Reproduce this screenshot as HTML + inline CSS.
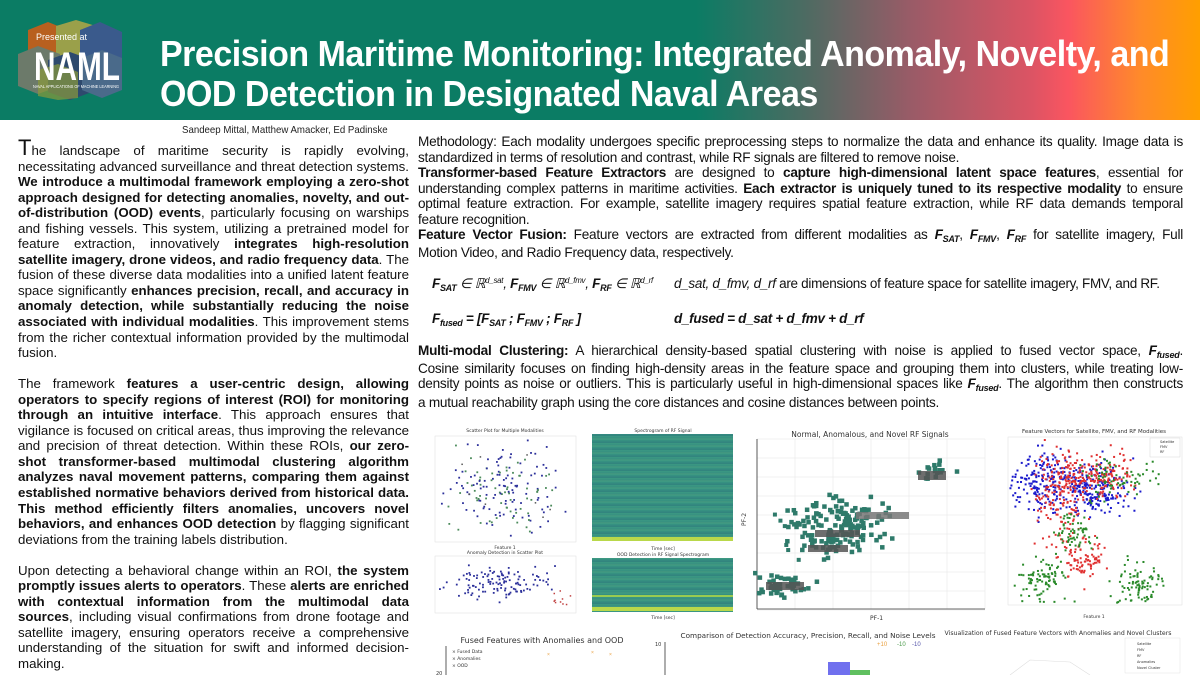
<!DOCTYPE html>
<html><head><meta charset="utf-8">
<style>
*{margin:0;padding:0;box-sizing:border-box}
body{width:1200px;height:675px;overflow:hidden;background:#fff;font-family:"Liberation Sans",Arial,sans-serif;position:relative}
#hdr{position:absolute;left:0;top:0;width:1200px;height:120px;background:linear-gradient(90deg,#0b7c64 0%,#0b7c64 58%,#4c6b62 67%,#9a5b67 76%,#dc5464 86%,#fa5560 89%,#ff8a2a 95%,#ff9f00 100%)}
#title{position:absolute;left:160px;top:34px;color:#fff;font-weight:bold;font-size:36.5px;line-height:40px;letter-spacing:-0.5px;transform:scaleX(0.93);transform-origin:left top;white-space:nowrap}
#logo{position:absolute;left:18px;top:20px;width:106px;height:80px}
#auth{position:absolute;left:182px;top:124px;font-size:10.5px;color:#222;transform:scaleX(0.92);transform-origin:left top}
#left{position:absolute;left:18px;top:143px;width:391px;font-size:13.3px;line-height:15.55px;text-align:justify;color:#111}
#left p{margin-bottom:15.5px}
#left .cap{font-size:22px;line-height:10px}
#right{position:absolute;left:418px;top:134px;width:765px;font-size:13.6px;line-height:15.6px;text-align:justify;color:#111;letter-spacing:-0.25px}
.ln{position:absolute;left:418px;width:765px;font-size:13.6px;line-height:16px;color:#111;letter-spacing:-0.25px;white-space:nowrap;text-align:justify;text-align-last:justify}
.ln.l{text-align-last:left}
sub{font-size:9px;vertical-align:-3px;line-height:0}
sup{font-size:8px;vertical-align:5px;line-height:0}
.eq{position:absolute;font-size:13.5px;font-style:italic;color:#111;white-space:nowrap;letter-spacing:-0.3px}
.t{font-family:"DejaVu Sans",sans-serif;fill:#333}
</style></head><body>
<div id="hdr"></div>
<svg id="logo" viewBox="0 0 106 80">
<polygon points="10,10 30,2 50,10 50,40 30,48 10,40" fill="#b8601f"/>
<polygon points="38,6 58,0 78,6 78,34 58,42 38,34" fill="#9aa04a"/>
<polygon points="62,10 82,2 104,12 104,42 84,50 62,42" fill="#3a5a8c"/>
<polygon points="0,34 20,26 42,34 42,66 20,74 0,66" fill="#6c7a6a"/>
<polygon points="30,40 52,32 74,40 74,72 52,80 30,72" fill="#2e4a6e"/>
<polygon points="64,38 84,30 104,38 104,70 84,78 64,70" fill="#4a6a8a"/>
<polygon points="20,50 40,44 60,52 60,78 40,80 20,76" fill="#8a9a3a" opacity=".7"/>
<text x="18" y="20" fill="#fff" font-size="9" font-family="Liberation Sans">Presented at</text>
<text x="16" y="60" fill="#fff" font-size="40" font-weight="bold" font-family="Liberation Sans" textLength="86" lengthAdjust="spacingAndGlyphs">NAML</text>
<text x="15" y="68" fill="#fff" font-size="4.5" font-family="Liberation Sans" textLength="86" lengthAdjust="spacingAndGlyphs">NAVAL APPLICATIONS OF MACHINE LEARNING</text>
</svg>
<div id="title">Precision Maritime Monitoring: Integrated Anomaly, Novelty, and<br>OOD Detection in Designated Naval Areas</div>
<div id="auth">Sandeep Mittal, Matthew Amacker, Ed Padinske</div>

<div id="left">
<p><span class="cap">T</span>he landscape of maritime security is rapidly evolving, necessitating advanced surveillance and threat detection systems. <b>We introduce a multimodal framework employing a zero-shot approach designed for detecting anomalies, novelty, and out-of-distribution (OOD) events</b>, particularly focusing on warships and fishing vessels. This system, utilizing a pretrained model for feature extraction, innovatively <b>integrates high-resolution satellite imagery, drone videos, and radio frequency data</b>. The fusion of these diverse data modalities into a unified latent feature space significantly <b>enhances precision, recall, and accuracy in anomaly detection, while substantially reducing the noise associated with individual modalities</b>. This improvement stems from the richer contextual information provided by the multimodal fusion.</p>
<p>The framework <b>features a user-centric design, allowing operators to specify regions of interest (ROI) for monitoring through an intuitive interface</b>. This approach ensures that vigilance is focused on critical areas, thus improving the relevance and precision of threat detection. Within these ROIs, <b>our zero-shot transformer-based multimodal clustering algorithm analyzes naval movement patterns, comparing them against established normative behaviors derived from historical data. This method efficiently filters anomalies, uncovers novel behaviors, and enhances OOD detection</b> by flagging significant deviations from the training labels distribution.</p>
<p>Upon detecting a behavioral change within an ROI, <b>the system promptly issues alerts to operators</b>. These <b>alerts are enriched with contextual information from the multimodal data sources</b>, including visual confirmations from drone footage and satellite imagery, ensuring operators receive a comprehensive understanding of the situation for swift and informed decision-making.</p>
</div>

<div id="right">
Methodology: Each modality undergoes specific preprocessing steps to normalize the data and enhance its quality. Image data is standardized in terms of resolution and contrast, while RF signals are filtered to remove noise.<br>
<b>Transformer-based Feature Extractors</b> are designed to <b>capture high-dimensional latent space features</b>, essential for understanding complex patterns in maritime activities. <b>Each extractor is uniquely tuned to its respective modality</b> to ensure optimal feature extraction. For example, satellite imagery requires spatial feature extraction, while RF data demands temporal feature recognition.
</div>
<div class="ln" style="top:227px"><b>Feature Vector Fusion:</b> Feature vectors are extracted from different modalities as <b><i>F<sub>SAT</sub></i></b>, <b><i>F<sub>FMV</sub></i></b>, <b><i>F<sub>RF</sub></i></b> for satellite imagery, Full</div>
<div class="ln l" style="top:245px">Motion Video, and Radio Frequency data, respectively.</div>
<div class="ln" style="top:343px"><b>Multi-modal Clustering:</b> A hierarchical density-based spatial clustering with noise is applied to fused vector space, <b><i>F<sub>fused</sub></i></b>.</div>
<div class="ln" style="top:361px">Cosine similarity focuses on finding high-density areas in the feature space and grouping them into clusters, while treating low-</div>
<div class="ln" style="top:376px">density points as noise or outliers. This is particularly useful in high-dimensional spaces like <b><i>F<sub>fused</sub></i></b>. The algorithm then constructs</div>
<div class="ln l" style="top:395px">a mutual reachability graph using the core distances and cosine distances between points.</div>
<div class="eq" style="left:432px;top:276px"><b>F<sub>SAT</sub></b> ∈ ℝ<sup>d_sat</sup>, <b>F<sub>FMV</sub></b> ∈ ℝ<sup>d_fmv</sup>, <b>F<sub>RF</sub></b> ∈ ℝ<sup>d_rf</sup></div>
<div class="eq" style="left:674px;top:276px">d_sat, d_fmv, d_rf <span style="font-style:normal">are dimensions of feature space for satellite imagery, FMV, and RF.</span></div>
<div class="eq" style="left:432px;top:311px"><b>F<sub>fused</sub> = [F<sub>SAT</sub> ; F<sub>FMV</sub> ; F<sub>RF</sub> ]</b></div>
<div class="eq" style="left:674px;top:311px"><b>d_fused = d_sat + d_fmv + d_rf</b></div>

<svg style="position:absolute;left:0;top:0" width="1200" height="675" id="ch">
<defs>
<linearGradient id="sp" x1="0" y1="0" x2="0" y2="1">
<stop offset="0" stop-color="#3a9585"/><stop offset=".2" stop-color="#32887f"/><stop offset=".4" stop-color="#3c9a83"/><stop offset=".6" stop-color="#34897f"/><stop offset=".8" stop-color="#3b9883"/><stop offset="1" stop-color="#348c80"/>
</linearGradient>
<pattern id="st" width="141" height="7" patternUnits="userSpaceOnUse"><rect width="141" height="7" fill="url(#sp)"/><rect y="0" width="141" height="2" fill="#2a7478" opacity=".25"/><rect y="4" width="141" height="1.5" fill="#5aae80" opacity=".3"/></pattern>
</defs>
<text x="505" y="432" font-size="4.5" class="t" text-anchor="middle">Scatter Plot for Multiple Modalities</text>
<rect x="435" y="436" width="141" height="106" fill="none" stroke="#ddd" stroke-width=".5"/>
<g id="s1"></g>
<text x="505" y="549" font-size="4.5" class="t" text-anchor="middle">Feature 1</text>
<text x="505" y="554" font-size="4.5" class="t" text-anchor="middle">Anomaly Detection in Scatter Plot</text>
<rect x="435" y="556" width="141" height="57" fill="none" stroke="#ddd" stroke-width=".5"/>
<g id="s2"></g>
<text x="663" y="432" font-size="4.5" class="t" text-anchor="middle">Spectrogram of RF Signal</text>
<rect x="592" y="434" width="141" height="107" fill="url(#st)"/>
<rect x="592" y="537" width="141" height="4" fill="#b9d84a"/>
<text x="663" y="550" font-size="4.5" class="t" text-anchor="middle">Time [sec]</text>
<text x="663" y="556" font-size="4.5" class="t" text-anchor="middle">OOD Detection in RF Signal Spectrogram</text>
<rect x="592" y="558" width="141" height="54" fill="url(#st)"/>
<rect x="592" y="595" width="141" height="2" fill="#9acb50"/>
<rect x="592" y="607" width="141" height="4" fill="#b9d84a"/>
<text x="663" y="619" font-size="4.5" class="t" text-anchor="middle">Time [sec]</text>
<text x="870" y="437" font-size="7.5" class="t" text-anchor="middle">Normal, Anomalous, and Novel RF Signals</text>
<g stroke="#e6e6e6" stroke-width=".6" id="g3"></g>
<line x1="757" y1="439" x2="757" y2="609" stroke="#333" stroke-width=".8"/>
<line x1="757" y1="609" x2="985" y2="609" stroke="#333" stroke-width=".8"/>
<g id="s3"></g>
<rect x="918" y="471" width="28" height="9" fill="#555" opacity=".85"/>
<rect x="856" y="512" width="53" height="7" fill="#777" opacity=".85"/>
<rect x="815" y="530" width="45" height="7" fill="#555" opacity=".85"/>
<rect x="808" y="545" width="40" height="7" fill="#555" opacity=".85"/>
<rect x="766" y="582" width="38" height="8" fill="#555" opacity=".85"/>
<text x="870" y="620" font-size="6" class="t">PF-1</text>
<text x="746" y="526" font-size="6" class="t" transform="rotate(-90 746 526)">PF-2</text>
<text x="1094" y="433" font-size="5.5" class="t" text-anchor="middle">Feature Vectors for Satellite, FMV, and RF Modalities</text>
<rect x="1008" y="437" width="174" height="168" fill="none" stroke="#ddd" stroke-width=".5"/>
<g id="s4"></g>
<rect x="1150" y="438" width="30" height="19" fill="#fff" stroke="#ccc" stroke-width=".4"/>
<text x="1160" y="443" font-size="3.5" class="t">Satellite</text><text x="1160" y="448" font-size="3.5" class="t">FMV</text><text x="1160" y="453" font-size="3.5" class="t">RF</text>
<text x="1094" y="618" font-size="4.5" class="t" text-anchor="middle">Feature 1</text>
<text x="542" y="643" font-size="8" class="t" text-anchor="middle">Fused Features with Anomalies and OOD</text>
<line x1="446" y1="646" x2="446" y2="675" stroke="#333" stroke-width=".8"/>
<text x="452" y="653" font-size="4.5" class="t">× Fused Data</text>
<text x="452" y="660" font-size="4.5" class="t" fill="#e9a040">× Anomalies</text>
<text x="452" y="667" font-size="4.5" class="t">× OOD</text>
<text x="436" y="675" font-size="5" class="t">20</text>
<text x="547" y="656" font-size="5" fill="#e9a040">×</text><text x="591" y="654" font-size="5" fill="#e9a040">×</text><text x="609" y="656" font-size="5" fill="#e9a040">×</text>
<text x="808" y="638" font-size="7" class="t" text-anchor="middle" textLength="255" lengthAdjust="spacingAndGlyphs">Comparison of Detection Accuracy, Precision, Recall, and Noise Levels</text>
<line x1="665" y1="642" x2="665" y2="675" stroke="#333" stroke-width=".8"/>
<text x="655" y="646" font-size="5" class="t">10</text>
<text x="877" y="646" font-size="6" fill="#e9a040">+10</text><text x="897" y="646" font-size="6" fill="#4a9a4a">-10</text><text x="912" y="646" font-size="6" fill="#5555aa">-10</text>
<rect x="828" y="662" width="22" height="13" fill="#7070ee"/><rect x="850" y="670" width="20" height="5" fill="#60c060"/>
<text x="1058" y="635" font-size="6.2" class="t" text-anchor="middle">Visualization of Fused Feature Vectors with Anomalies and Novel Clusters</text>
<rect x="1125" y="638" width="55" height="35" fill="#fff" stroke="#ddd" stroke-width=".4"/>
<text x="1137" y="645" font-size="3.5" class="t">Satellite</text><text x="1137" y="651" font-size="3.5" class="t">FMV</text><text x="1137" y="657" font-size="3.5" class="t">RF</text><text x="1137" y="663" font-size="3.5" class="t">Anomalies</text><text x="1137" y="669" font-size="3.5" class="t">Novel Cluster</text>
<path d="M1010 675 L1030 660 L1070 662 L1090 675" fill="none" stroke="#ddd" stroke-width=".6"/>
</svg>
<script>
var s=7;function r(){s=(s*16807)%2147483647;return s/2147483647}
function g(){return (r()+r()+r()+r()-2)*1.2}
var NS="http://www.w3.org/2000/svg";
function el(p,t,a){var e=document.createElementNS(NS,t);for(var k in a)e.setAttribute(k,a[k]);document.getElementById(p).appendChild(e);return e}
function pt(p,x,y,c,sz){el(p,'rect',{x:x-sz/2,y:y-sz/2,width:sz,height:sz,fill:c})}
function cl1(p,n,cx,cy,sx,sy,c,sz,x0,x1,y0,y1){for(var i=0;i<n;i++){var x=cx+g()*sx,y=cy+g()*sy;if(x<x0||x>x1||y<y0||y>y1)continue;pt(p,x,y,c,sz)}}
for(var i=0;i<180;i++){var x=505+g()*40,y=488+g()*30;if(x<438||x>573||y<439||y>539)continue;pt('s1',x,y,r()<.65?'#2b2f9a':'#4a8a5a',1.8)}
for(var i=0;i<8;i++)pt('s1',440+r()*130,440+r()*98,'#555',1.5);
cl1('s2',120,500,582,35,11,'#2b2f9a',1.8,438,573,559,611);
for(var i=0;i<10;i++){pt('s2',550+r()*24,590+r()*18,'#c04040',1.5)}
for(var i=0;i<7;i++){el('g3','line',{x1:757+i*38,y1:439,x2:757+i*38,y2:609});}
for(var i=0;i<10;i++){el('g3','line',{x1:757,y1:439+i*19,x2:985,y2:439+i*19});}
function cl(n,cx,cy,sx,sy){for(var i=0;i<n;i++)pt('s3',cx+g()*sx,cy+g()*sy,'#2e7a6a',4.5)}
cl(160,838,528,30,22);cl(45,782,585,18,9);cl(18,935,470,12,7);
for(var i=0;i<12;i++)pt('s3',770+r()*100,495+r()*80,'#2e7a6a',4);
function c4(n,cx,cy,sx,sy,c){for(var i=0;i<n;i++){var x=cx+g()*sx,y=cy+g()*sy;if(x<1010||x>1180||y<439||y>603)continue;pt('s4',x,y,c,2)}}
c4(160,1040,480,20,20,'#1a1acc');c4(240,1090,490,28,20,'#1a1acc');
c4(180,1062,492,18,30,'#e03030');c4(150,1098,476,26,16,'#e03030');c4(90,1083,560,18,15,'#e03030');
c4(90,1045,580,17,16,'#2a8a2a');c4(90,1140,585,17,17,'#2a8a2a');c4(60,1075,532,14,14,'#2a8a2a');c4(70,1118,478,24,14,'#2a8a2a');
</script>
</body></html>
